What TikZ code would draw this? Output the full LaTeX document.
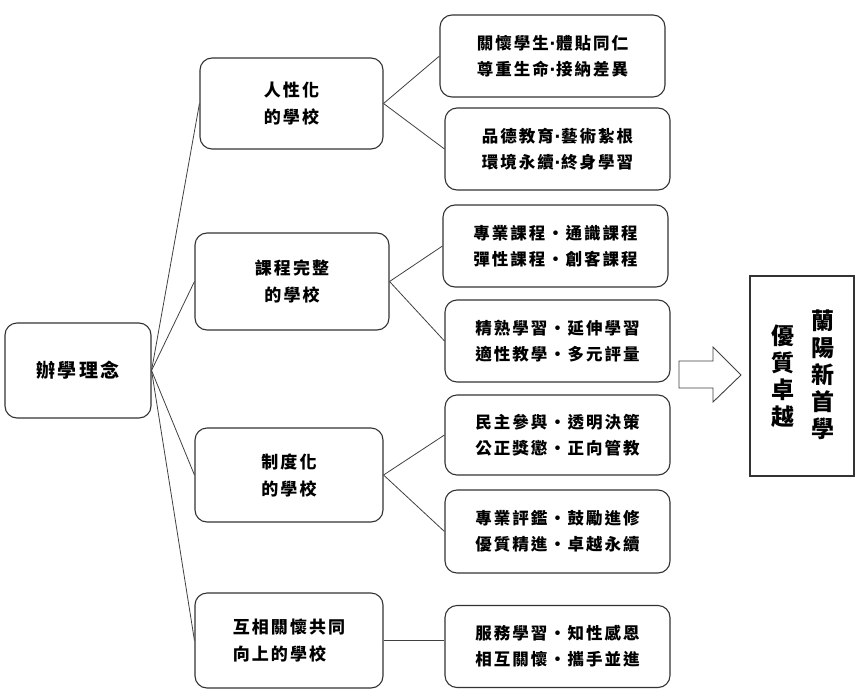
\documentclass[tikz,border=0pt]{standalone}
\usepackage{fontspec}
\setmainfont{Noto Sans CJK TC}
\newfontfamily\cjk{Noto Sans CJK TC}[LetterSpace=12]
\newfontfamily\latindot{DejaVu Sans}
\newcommand{\sdot}{{\latindot\bfseries\kern0.5pt·\kern0.5pt}}
\begin{document}
\begin{tikzpicture}[x=1pt,y=-1pt,
  box/.style={draw=black!80,line width=1.1pt,rounded corners=12pt,inner sep=0pt,align=center},
  hubtxt/.style={font=\cjk\bfseries\fontsize{19}{27}\selectfont},
  midtxt/.style={font=\cjk\bfseries\fontsize{17}{27}\selectfont},
  leaftxt/.style={font=\cjk\bfseries\fontsize{16.5}{26}\selectfont},
  goaltxt/.style={font=\cjk\bfseries\fontsize{23}{27}\selectfont,align=center,inner sep=0pt},
  link/.style={draw=black!75,line width=0.8pt}]
\useasboundingbox (0,0) rectangle (866,698);
% hub
\node[box,hubtxt,minimum width=146pt,minimum height=95pt] (hub) at (78,370.5) {辦學理念};
% middle
\node[box,midtxt,minimum width=183pt,minimum height=91pt] (m1) at (291.5,103.5) {人性化\\的學校};
\node[box,midtxt,minimum width=194pt,minimum height=97pt] (m2) at (292,281.5) {課程完整\\的學校};
\node[box,midtxt,minimum width=188pt,minimum height=94pt] (m3) at (289,475) {制度化\\的學校};
\node[box,midtxt,minimum width=188pt,minimum height=95pt,align=left] (m4) at (289,640.5) {互相關懷共同\\向上的學校};
% leaves
\node[box,leaftxt,minimum width=225pt,minimum height=82pt] (r1) at (552.5,56) {關懷學生\sdot 體貼同仁\\尊重生命\sdot 接納差異};
\node[box,leaftxt,minimum width=225pt,minimum height=82pt] (r2) at (557.5,149) {品德教育\sdot 藝術紮根\\環境永續\sdot 終身學習};
\node[box,leaftxt,minimum width=225pt,minimum height=82pt] (r3) at (555.5,246) {專業課程・通識課程\\彈性課程・創客課程};
\node[box,leaftxt,minimum width=225pt,minimum height=82pt] (r4) at (557.5,341) {精熟學習・延伸學習\\適性教學・多元評量};
\node[box,leaftxt,minimum width=225pt,minimum height=80pt] (r5) at (557.5,435) {民主參與・透明決策\\公正獎懲・正向管教};
\node[box,leaftxt,minimum width=225pt,minimum height=83pt] (r6) at (557.5,531.5) {專業評鑑・鼓勵進修\\優質精進・卓越永續};
\node[box,leaftxt,minimum width=225pt,minimum height=82pt] (r7) at (557.5,646.5) {服務學習・知性感恩\\相互關懷・攜手並進};
% goal
\node[draw=black!80,line width=1.1pt,minimum width=104pt,minimum height=200pt,inner sep=0pt] (goal) at (802,376) {};
\node[goaltxt] (g1) at (823,375) {蘭\\陽\\新\\首\\學};
\node[goaltxt] (g2) at (783,376) {優\\質\\卓\\越};
% block arrow
\draw[draw=black!75,line width=0.9pt,fill=white] (679,361) -- (713,361) -- (713,347) -- (741,375) -- (713,402) -- (713,388) -- (679,388) -- cycle;
% connectors
\foreach \m in {m1,m2,m3,m4} \draw[link] (hub.east) -- (\m.west);
\draw[link] (m1.east) -- (r1.west);
\draw[link] (m1.east) -- (r2.west);
\draw[link] (m2.east) -- (r3.west);
\draw[link] (m2.east) -- (r4.west);
\draw[link] (m3.east) -- (r5.west);
\draw[link] (m3.east) -- (r6.west);
\draw[link] (m4.east) -- (m4.east -| r7.west);
\end{tikzpicture}
\end{document}
